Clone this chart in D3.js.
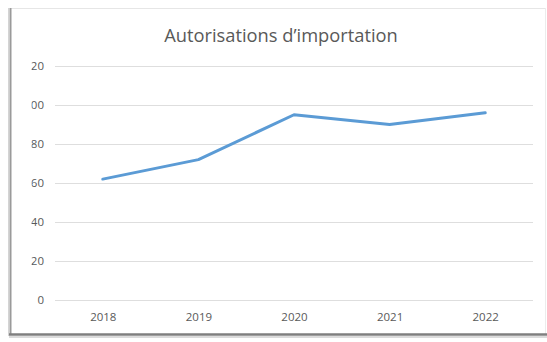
<!DOCTYPE html>
<html>
<head>
<meta charset="utf-8">
<script src="https://cdn.jsdelivr.net/npm/d3@7"></script>
<style>
  html, body { margin: 0; padding: 0; background: #ffffff; }
  svg { display: block; }
</style>
</head>
<body>
<svg id="chart" width="547" height="342"></svg>
<script>
// Chart data
const years = ["2018", "2019", "2020", "2021", "2022"];
const authorisations = [62, 72, 95, 90, 96];
const yTicks = [0, 20, 40, 60, 80, 100, 120];
const chartTitle = "Autorisations d\u2019importation";

const W = 547, H = 342;
const plot = { left: 55, right: 533, top: 66, bottom: 300 };
const font = "'Open Sans', 'Noto Sans', sans-serif";
const textGrey = "#595959";

const svg = d3.select("#chart");

// Panel frame with soft shadow on the left and bottom
svg.append("rect").attr("x", 0).attr("y", 0).attr("width", W).attr("height", H).attr("fill", "#ffffff");
svg.append("line").attr("x1", 10).attr("x2", 545).attr("y1", 8.5).attr("y2", 8.5)
  .attr("stroke", "#e6e6e6").attr("stroke-width", 1);
svg.append("line").attr("x1", 545.5).attr("x2", 545.5).attr("y1", 8).attr("y2", 334)
  .attr("stroke", "#ececec").attr("stroke-width", 1);
svg.append("line").attr("x1", 8.5).attr("x2", 8.5).attr("y1", 8).attr("y2", 336)
  .attr("stroke", "#d4d4d4").attr("stroke-width", 1);
svg.append("line").attr("x1", 10.5).attr("x2", 10.5).attr("y1", 8).attr("y2", 334)
  .attr("stroke", "#9a9a9a").attr("stroke-width", 2);
svg.append("line").attr("x1", 9).attr("x2", 547).attr("y1", 334.5).attr("y2", 334.5)
  .attr("stroke", "#7f7f7f").attr("stroke-width", 2.5);
svg.append("line").attr("x1", 9).attr("x2", 547).attr("y1", 337).attr("y2", 337)
  .attr("stroke", "#cfcfcf").attr("stroke-width", 1.5);

// Scales
const x = d3.scalePoint().domain(years).range([plot.left, plot.right]).padding(0.5);
const y = d3.scaleLinear().domain([0, 120]).range([plot.bottom, plot.top]);

// Title
svg.append("text")
  .attr("x", 281).attr("y", 42)
  .attr("text-anchor", "middle")
  .attr("font-family", font).attr("font-size", 18.3)
  .attr("fill", textGrey)
  .text(chartTitle);

// Horizontal gridlines
svg.append("g")
  .selectAll("line")
  .data(yTicks)
  .join("line")
  .attr("x1", plot.left).attr("x2", plot.right)
  .attr("y1", d => Math.round(y(d)) + 0.5).attr("y2", d => Math.round(y(d)) + 0.5)
  .attr("stroke", "#dedede").attr("stroke-width", 1);

// Y axis labels; the left edge of the label column is cut off
svg.append("defs").append("clipPath").attr("id", "ylabelClip")
  .append("rect").attr("x", 31.5).attr("y", 0).attr("width", 30).attr("height", H);

const yAxis = d3.axisLeft(y).tickValues(yTicks).tickSize(0).tickPadding(0);
const yWrap = svg.append("g").attr("clip-path", "url(#ylabelClip)");
const yg = yWrap.append("g")
  .attr("transform", `translate(${plot.left - 11},0)`)
  .call(yAxis);
yg.select(".domain").remove();
yg.selectAll("text")
  .attr("font-family", font).attr("font-size", 11.5)
  .attr("fill", textGrey);

// X axis labels
const xAxis = d3.axisBottom(x).tickSize(0).tickPadding(0);
const xg = svg.append("g")
  .attr("transform", `translate(0,${plot.bottom + 13})`)
  .call(xAxis);
xg.select(".domain").remove();
xg.selectAll("text")
  .attr("font-family", font).attr("font-size", 11.5)
  .attr("fill", textGrey);

// Series line
const line = d3.line()
  .x((d, i) => x(years[i]))
  .y(d => y(d));

svg.append("path")
  .datum(authorisations)
  .attr("d", line)
  .attr("fill", "none")
  .attr("stroke", "#5b9bd5")
  .attr("stroke-width", 3)
  .attr("stroke-linejoin", "round")
  .attr("stroke-linecap", "round");
</script>
</body>
</html>
